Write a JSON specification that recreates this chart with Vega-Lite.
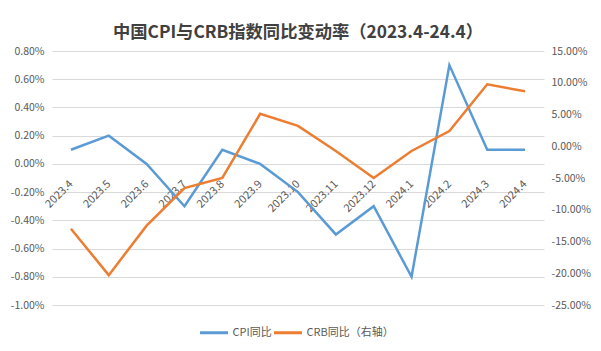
{
  "$schema": "https://vega.github.io/schema/vega-lite/v6.json",
  "width": 492,
  "height": 254,
  "autosize": "none",
  "padding": {"left": 52, "top": 51, "right": 57, "bottom": 46},
  "background": "white",
  "title": {
    "text": "中国CPI与CRB指数同比变动率（2023.4-24.4）",
    "font": "Noto Sans CJK SC",
    "fontSize": 17.3,
    "fontWeight": "bold",
    "color": "#404040",
    "anchor": "middle",
    "frame": "group",
    "baseline": "alphabetic",
    "offset": -9
  },
  "config": {
    "view": {"stroke": null},
    "axis": {
      "labelFont": "Noto Sans CJK SC",
      "labelFontSize": 10.5,
      "labelColor": "#595959"
    }
  },
  "data": {
    "values": [
      {"month": "2023.4", "cpi": 0.001, "crb": -0.13},
      {"month": "2023.5", "cpi": 0.002, "crb": -0.203},
      {"month": "2023.6", "cpi": 0.0, "crb": -0.125},
      {"month": "2023.7", "cpi": -0.003, "crb": -0.066},
      {"month": "2023.8", "cpi": 0.001, "crb": -0.05},
      {"month": "2023.9", "cpi": 0.0, "crb": 0.051},
      {"month": "2023.10", "cpi": -0.002, "crb": 0.032},
      {"month": "2023.11", "cpi": -0.005, "crb": -0.0075},
      {"month": "2023.12", "cpi": -0.003, "crb": -0.05},
      {"month": "2024.1", "cpi": -0.008, "crb": -0.0075},
      {"month": "2024.2", "cpi": 0.007, "crb": 0.024},
      {"month": "2024.3", "cpi": 0.001, "crb": 0.0975},
      {"month": "2024.4", "cpi": 0.001, "crb": 0.0865}
    ]
  },
  "layer": [
    {
      "mark": {"type": "line", "strokeWidth": 2.5},
      "encoding": {
        "x": {
          "field": "month",
          "type": "ordinal",
          "sort": null,
          "scale": {"type": "point", "padding": 0.5},
          "axis": {
            "orient": "bottom",
            "offset": -141,
            "labelAngle": -45,
            "labelAlign": "right",
            "labelBaseline": "middle",
            "labelPadding": 18,
            "labelFontSize": 11,
            "labelOverlap": false,
            "ticks": false,
            "tickSize": 0,
            "domain": false,
            "grid": false,
            "title": null
          }
        },
        "y": {
          "field": "cpi",
          "type": "quantitative",
          "scale": {"domain": [-0.01, 0.008], "nice": false, "zero": false},
          "axis": {
            "orient": "left",
            "values": [-0.01, -0.008, -0.006, -0.004, -0.002, 0, 0.002, 0.004, 0.006, 0.008],
            "labelExpr": "replace(format(datum.value, '.2%'), '−', '-')",
            "grid": true,
            "gridColor": "#d9d9d9",
            "gridWidth": 1,
            "domain": false,
            "ticks": false,
            "labelPadding": 8,
            "title": null
          }
        },
        "color": {
          "datum": "CPI同比",
          "type": "nominal",
          "scale": {"domain": ["CPI同比", "CRB同比（右轴）"], "range": ["#5B9BD5", "#ED7D31"]},
          "legend": {
            "orient": "none",
            "legendX": 146.5,
            "legendY": 266,
            "direction": "horizontal",
            "title": null,
            "symbolType": "stroke",
            "symbolSize": 784,
            "symbolStrokeWidth": 3,
            "labelFont": "Noto Sans CJK SC",
            "labelFontSize": 11,
            "labelColor": "#595959",
            "labelOffset": 3,
            "columnPadding": -14,
            "padding": 0
          }
        }
      }
    },
    {
      "mark": {"type": "line", "strokeWidth": 2.5},
      "encoding": {
        "x": {"field": "month", "type": "ordinal", "sort": null},
        "y": {
          "field": "crb",
          "type": "quantitative",
          "scale": {"domain": [-0.25, 0.15], "nice": false, "zero": false},
          "axis": {
            "orient": "right",
            "values": [-0.25, -0.2, -0.15, -0.1, -0.05, 0, 0.05, 0.1, 0.15],
            "labelExpr": "replace(format(datum.value, '.2%'), '−', '-')",
            "grid": false,
            "domain": false,
            "ticks": false,
            "labelPadding": 7,
            "title": null
          }
        },
        "color": {"datum": "CRB同比（右轴）", "type": "nominal"}
      }
    }
  ],
  "resolve": {"scale": {"y": "independent"}}
}
